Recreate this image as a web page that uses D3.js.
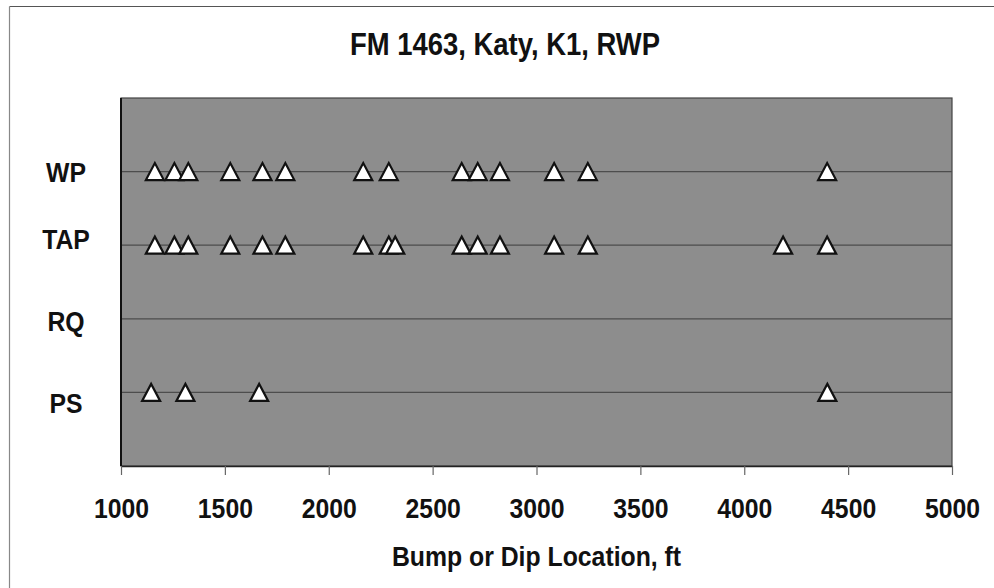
<!DOCTYPE html>
<html>
<head>
<meta charset="utf-8">
<script src="https://cdn.jsdelivr.net/npm/d3@7"></script>
<style>
  html, body { margin: 0; padding: 0; background: #fff; }
  svg { display: block; font-family: "Liberation Sans", Arial, sans-serif; font-weight: bold; }
</style>
</head>
<body>
<svg id="chart" width="994" height="588"></svg>
<script>
// ---- data ----
const title = "FM 1463, Katy, K1, RWP";
const xTitle = "Bump or Dip Location, ft";
const categories = ["WP", "TAP", "RQ", "PS"];
const wpValues  = [1163, 1257, 1324, 1526, 1681, 1791, 2166, 2289, 2640, 2717, 2824, 3085, 3247, 4399];
const tapValues = [1163, 1257, 1324, 1526, 1681, 1791, 2166, 2289, 2320, 2640, 2717, 2824, 3085, 3247, 4187, 4399];
const rqValues  = [];
const psValues  = [1145, 1310, 1665, 4400];
const xTicks = [1000, 1500, 2000, 2500, 3000, 3500, 4000, 4500, 5000];

// ---- layout ----
const W = 994, H = 588;
const plot = { left: 121, right: 952, top: 98, bottom: 466 };
const labelShift = [0, -6, 2, 11];   // vertical nudges of the row labels
const squeeze = 0.886;               // horizontal compression of the scanned text

const series = [wpValues, tapValues, rqValues, psValues];

const svg = d3.select("#chart");

const x = d3.scaleLinear().domain([1000, 5000]).range([plot.left, plot.right]);
const y = d3.scaleLinear().domain([0, categories.length + 1]).range([plot.bottom, plot.top]);
const rowY = i => y(categories.length - i);

// outer chart frame (top and left edges visible)
svg.append("line").attr("x1", 9.5).attr("x2", W).attr("y1", 6.5).attr("y2", 6.5)
  .attr("stroke", "#555").attr("stroke-width", 1.2);
svg.append("line").attr("x1", 9.5).attr("x2", 9.5).attr("y1", 6.5).attr("y2", H)
  .attr("stroke", "#888").attr("stroke-width", 1.2);

// plot area
svg.append("rect")
  .attr("x", plot.left).attr("y", plot.top)
  .attr("width", plot.right - plot.left).attr("height", plot.bottom - plot.top)
  .attr("fill", "#8d8d8d").attr("stroke", "#444").attr("stroke-width", 1.2);

// horizontal gridlines at category rows
svg.append("g").selectAll("line").data(categories).join("line")
  .attr("x1", plot.left).attr("x2", plot.right)
  .attr("y1", (d, i) => rowY(i)).attr("y2", (d, i) => rowY(i))
  .attr("stroke", "#4d4d4d").attr("stroke-width", 1.2);

// left axis line
svg.append("line").attr("x1", plot.left).attr("x2", plot.left)
  .attr("y1", plot.top).attr("y2", plot.bottom)
  .attr("stroke", "#111").attr("stroke-width", 2);

// x axis
const xAxis = d3.axisBottom(x).tickValues(xTicks).tickFormat(d3.format("d")).tickSize(9).tickSizeOuter(0);
const gx = svg.append("g").attr("transform", `translate(0,${plot.bottom})`).call(xAxis);
gx.select(".domain").attr("stroke", "#222").attr("stroke-width", 1.5);
gx.selectAll(".tick line").attr("stroke", "#666").attr("stroke-width", 1.2);
gx.selectAll(".tick text")
  .attr("y", 52).attr("dy", 0)
  .attr("transform", `scale(${squeeze},1)`)
  .attr("fill", "#111")
  .style("font-family", '"Liberation Sans", Arial, sans-serif')
  .style("font-weight", "bold")
  .style("font-size", "28px");

// row labels
svg.append("g").selectAll("text").data(categories).join("text")
  .attr("transform", (d, i) => `translate(66,${rowY(i) + labelShift[i] + 10}) scale(${squeeze},1)`)
  .attr("text-anchor", "middle")
  .attr("fill", "#111")
  .style("font-size", "28px")
  .text(d => d);

// triangle markers
const tri = d3.line();
const half = { w: 9, h: 8.5 };
series.forEach((vals, i) => {
  const cy = rowY(i);
  svg.append("g").selectAll("path").data(vals).join("path")
    .attr("d", v => {
      const cx = x(v);
      return tri([[cx - half.w, cy + half.h], [cx + half.w, cy + half.h], [cx, cy - half.h]]) + "Z";
    })
    .attr("fill", "#fff").attr("stroke", "#111").attr("stroke-width", 2.2)
    .attr("stroke-linejoin", "miter");
});

// title
svg.append("text")
  .attr("transform", `translate(505,55) scale(${squeeze},1)`)
  .attr("text-anchor", "middle").attr("fill", "#111")
  .style("font-size", "31px")
  .text(title);

// x axis title
svg.append("text")
  .attr("transform", `translate(${(plot.left + plot.right) / 2},566) scale(${squeeze},1)`)
  .attr("text-anchor", "middle").attr("fill", "#111")
  .style("font-size", "28px")
  .text(xTitle);
</script>
</body>
</html>
